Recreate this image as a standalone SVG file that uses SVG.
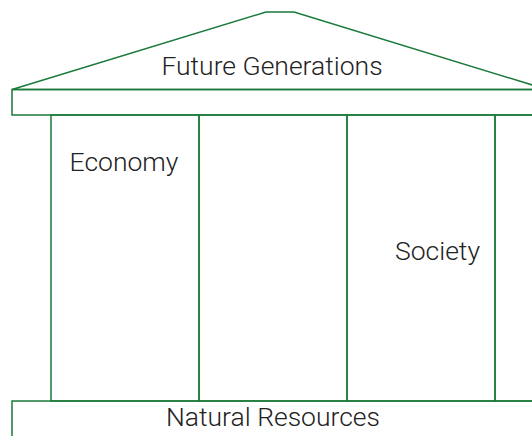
<svg xmlns="http://www.w3.org/2000/svg" width="532" height="436" viewBox="0 0 532 436">
<style>
.s{fill:none;stroke:#1b7a3a;stroke-width:1.5}
.t{font-family:Roboto,"Liberation Sans",sans-serif;font-weight:300;font-size:26.5px;fill:#222}
</style>
<rect width="532" height="436" fill="#fff"/>
<g id="roof">
<polygon class="s" points="12,89.5 266,12 294,12 547,89.5"/>
<text class="t" x="272" y="74.5" text-anchor="middle">Future Generations</text>
</g>
<g id="beam"><rect class="s" x="12" y="89.5" width="535" height="25.5"/></g>
<g id="economy">
<rect class="s" x="51" y="115" width="148" height="286"/>
<text class="t" x="124" y="170.5" text-anchor="middle">Economy</text>
</g>
<g id="col2"><rect class="s" x="199" y="115" width="148" height="286"/></g>
<g id="society">
<rect class="s" x="347" y="115" width="148" height="286"/>
<text class="t" x="437.5" y="259.5" text-anchor="middle">Society</text>
</g>
<g id="col4"><rect class="s" x="495" y="115" width="60" height="286"/></g>
<g id="base">
<rect class="s" x="12" y="401" width="540" height="50"/>
<text class="t" x="273" y="425.5" text-anchor="middle">Natural Resources</text>
</g>
<g id="connectors"></g>
</svg>
